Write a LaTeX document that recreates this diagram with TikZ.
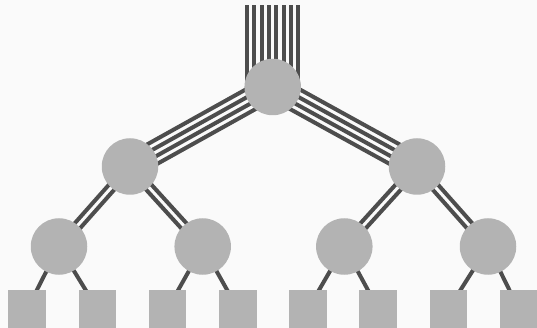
\documentclass[tikz,border=0pt]{standalone}
\usetikzlibrary{calc,backgrounds}
\definecolor{bgc}{HTML}{FAFAFA}
\definecolor{wirec}{HTML}{4D4D4D}
\definecolor{nodec}{HTML}{B3B3B3}
\tikzset{
  sw/.style={circle, fill=nodec, minimum size=56.5pt, inner sep=0pt},
  host/.style={rectangle, fill=nodec, minimum size=37.5pt, inner sep=0pt},
  wire/.style={draw=wirec, line width=4pt},
}
\begin{document}
\begin{tikzpicture}[x=1pt,y=-1pt]
\begin{pgfonlayer}{background}
  \fill[bgc] (0,0) rectangle (537,328);
\end{pgfonlayer}
\useasboundingbox (0,0) rectangle (537,328);
% switches
\node[sw] (r) at (272.7,87) {};
\node[sw] (a) at (130,166.5) {};
\node[sw] (b) at (417,166.5) {};
\node[sw] (a1) at (59,246.5) {};
\node[sw] (a2) at (202.7,246.5) {};
\node[sw] (b1) at (344.3,246.5) {};
\node[sw] (b2) at (488,246.5) {};
% hosts
\node[host] (h1) at (27.2,309) {};
\node[host] (h2) at (97.3,309) {};
\node[host] (h3) at (167.5,309) {};
\node[host] (h4) at (237.8,309) {};
\node[host] (h5) at (308,309) {};
\node[host] (h6) at (378.2,309) {};
\node[host] (h7) at (448.5,309) {};
\node[host] (h8) at (518.7,309) {};
\coordinate (t) at (272.7,5);
\begin{pgfonlayer}{background}
  % top uplinks
  \foreach \o in {-25.55,-18.25,-10.95,-3.65,3.65,10.95,18.25,25.55}
    \draw[wire] ($(r)+(\o,0)$) -- ($(t)+(\o,0)$);
  % root to level 1
  \foreach \p in {a,b}
    \foreach \o in {-10.95,-3.65,3.65,10.95}
      \draw[wire] ($(r)!\o pt!90:(\p)$) -- ($(\p)!\o pt!-90:(r)$);
  % level 1 to level 2
  \foreach \u/\v in {a/a1,a/a2,b/b1,b/b2}
    \foreach \o in {-3.65,3.65}
      \draw[wire] ($(\u)!\o pt!90:(\v)$) -- ($(\v)!\o pt!-90:(\u)$);
  % level 2 to hosts
  \foreach \u/\v in {a1/h1,a1/h2,a2/h3,a2/h4,b1/h5,b1/h6,b2/h7,b2/h8}
    \draw[wire] (\u.center) -- (\v.center);
\end{pgfonlayer}
\end{tikzpicture}
\end{document}
